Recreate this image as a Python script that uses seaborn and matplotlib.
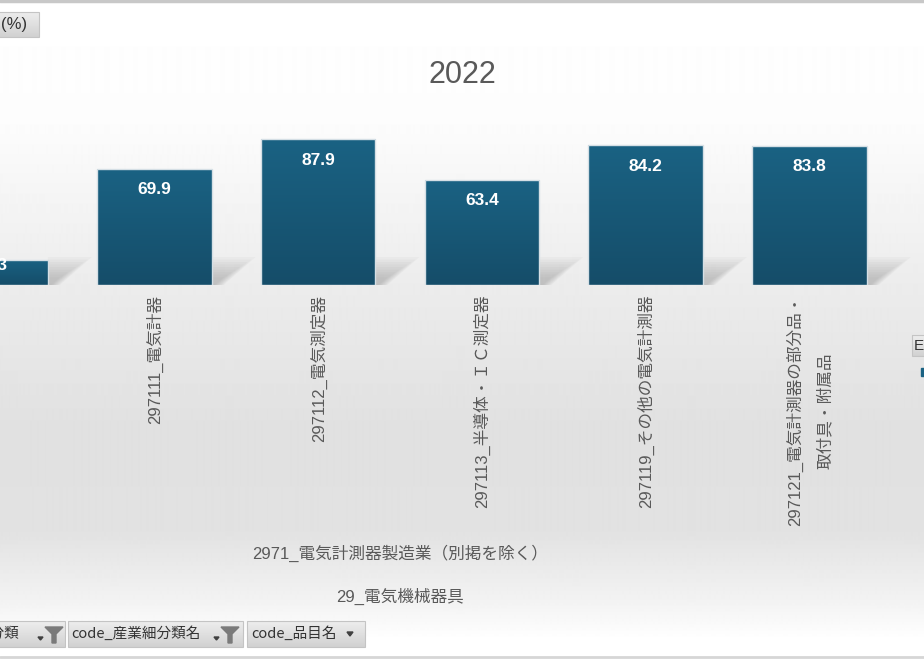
import numpy as np
import pandas as pd
import matplotlib
matplotlib.use('Agg')
import matplotlib.pyplot as plt
import matplotlib.transforms as mtransforms
from matplotlib.colors import LinearSegmentedColormap
from matplotlib.patches import Polygon, Rectangle
import seaborn as sns

# data
year = '2022'
items = ['297100_電気計測器', '297111_電気計器', '297112_電気測定器',
         '297113_半導体・ＩＣ測定器', '297119_その他の電気計測器',
         '297121_電気計測器の部分品・\n取付具・附属品']
values = [15.3, 69.9, 87.9, 63.4, 84.2, 83.8]
group_small = '2971_電気計測器製造業（別掲を除く）'
group_large = '29_電気機械器具'
filter_buttons = ['code_産業中分類', 'code_産業細分類名', 'code_品目名']
value_button = '(%)'
legend_button = 'E'

bar_top = '#1a6283'
bar_bottom = '#154d69'
text_grey = '#595959'

sns.set_theme(style='white')
plt.rcParams['font.family'] = ['Liberation Sans', 'Noto Sans CJK JP', 'DejaVu Sans']

W, H = 924, 660
fig = plt.figure(figsize=(W / 100, H / 100), dpi=100)

# background layer in pixel coordinates
bg = fig.add_axes([0, 0, 1, 1], zorder=0)
bg.set_xlim(0, W)
bg.set_ylim(H, 0)
bg.axis('off')
stop_y = [0, 120, 285, 430, 530, 600, 640, 660]
stop_v = [1.0, 0.99, 0.925, 0.88, 0.885, 0.95, 1.0, 1.0]
shade = np.interp(np.arange(H), stop_y, stop_v)
bg.imshow(np.repeat(shade[:, None], 2, axis=1), cmap='gray', vmin=0, vmax=1,
          extent=[0, W, H, 0], aspect='auto', interpolation='bilinear')
bg.plot([0, W], [1, 1], color='#c8c8c8', lw=2.5)
bg.plot([0, W], [657, 657], color='#d6d6d6', lw=2)
bg.set_xlim(0, W)
bg.set_ylim(H, 0)


def button(x0, y0, x1, y1):
    g = np.linspace(0.93, 0.82, 50)[:, None]
    bg.imshow(np.repeat(g, 2, axis=1), cmap='gray', vmin=0, vmax=1,
              extent=[x0, x1, y1, y0], aspect='auto', interpolation='bilinear')
    bg.add_patch(Rectangle((x0, y0), x1 - x0, y1 - y0, fill=False,
                           edgecolor='#c4c4c4', lw=0.8))


def funnel(cx, cy):
    pts = [(cx - 9, cy - 7), (cx + 9, cy - 7), (cx + 2, cy), (cx + 2, cy + 9),
           (cx - 2, cy + 9), (cx - 2, cy)]
    bg.add_patch(Polygon(pts, closed=True, color='#7a7a7a'))
    bg.add_patch(Polygon([(cx - 16, cy + 3), (cx - 11, cy + 3), (cx - 13.5, cy + 6)],
                         closed=True, color='#404040'))


# top-left value field button
button(-5, 12, 39, 37)
bg.text(27, 24.5, value_button, ha='right', va='center', fontsize=12, color='#333333')

# bottom filter buttons
button(-5, 621, 65, 647)
button(68, 621, 243, 647)
button(247, 621, 365, 647)
bf = ['Noto Sans CJK JP', 'DejaVu Sans']
bg.text(19, 634, filter_buttons[0], ha='right', va='center', fontsize=10.5,
        color='#333333', family=bf)
bg.text(71, 634, filter_buttons[1], ha='left', va='center', fontsize=10.5,
        color='#333333', family=bf)
bg.text(251, 634, filter_buttons[2], ha='left', va='center', fontsize=10.5,
        color='#333333', family=bf)
funnel(54, 634)
funnel(230, 634)
bg.add_patch(Polygon([(347, 632), (353, 632), (350, 636)], closed=True, color='#404040'))

# legend stub at the right edge
button(912, 335, 932, 356)
bg.text(914, 345.5, legend_button, ha='left', va='center', fontsize=11, color='#333333')
bg.add_patch(Rectangle((921, 368), 8, 8, color=bar_top))

# main plot
ax = fig.add_axes([0, 1 - 285 / H, 1, 175 / H], zorder=1)
ax.patch.set_alpha(0)
df = pd.DataFrame({'item': items, 'value': values})
sns.barplot(data=df, x='item', y='value', order=items, color=bar_top,
            saturation=1, width=0.7, errorbar=None, ax=ax, linewidth=0)

ax.set_xticks(range(len(items)))
ax.set_xticklabels(items, rotation=90, va='top', ha='center', color=text_grey,
                   fontsize=12, linespacing=2.1)
for lab in ax.get_xticklabels():
    lab.set_multialignment('center')

px_x = 163.8
px_y = 1.66
x_lo = 9.5 / px_x
ax.set_xlim(x_lo, x_lo + W / px_x)
ax.set_ylim(0, 175 / px_y)
sx, sy = 1 / px_x, 1 / px_y

cmap = LinearSegmentedColormap.from_list('bar', [bar_bottom, bar_top])
grad = np.linspace(0, 1, 100)[:, None]
bars = list(ax.patches)
for p, v in zip(bars, values):
    x0, w = p.get_x(), p.get_width()
    xr = x0 + w
    # soft floor shadow to the right
    for k in range(9):
        s = 1 - k * 0.09
        pts = [(xr, 0), (xr + 12 * s * sx, 0), (xr + 44 * s * sx, 28 * s * sy),
               (xr, 28 * s * sy)]
        ax.add_patch(Polygon(pts, closed=True, color='#808080', alpha=0.05,
                             lw=0, zorder=0.5))
    im = ax.imshow(grad, cmap=cmap, extent=[x0, xr, 0, v], origin='lower',
                   aspect='auto', interpolation='bilinear', zorder=2)
    im.set_clip_path(p)
    ax.add_patch(Rectangle((x0, 0), w, v, fill=False, edgecolor='#d5dfe5',
                           lw=1, zorder=3))
    off = min(21, 0.25 * v / sy)
    tr = mtransforms.offset_copy(ax.transData, fig=fig, y=-off, units='dots')
    ax.text(x0 + w / 2, v, f'{v:.1f}', transform=tr, ha='center', va='center',
            color='white', fontsize=12.5, fontweight='bold', zorder=5)

ax.set_xlim(x_lo, x_lo + W / px_x)
ax.set_ylim(0, 175 / px_y)
ax.set_xlabel('')
ax.set_ylabel('')
ax.set_yticks([])
ax.tick_params(axis='x', length=0, pad=7)
for sp in ax.spines.values():
    sp.set_visible(False)

# title and category group labels
fig.text(0.5, 1 - 75 / H, year, ha='center', va='center', fontsize=22, color=text_grey)
tb = mtransforms.blended_transform_factory(ax.transData, fig.transFigure)
mid = (len(items) - 1) / 2
fig.text(mid, 1 - 553 / H, group_small, transform=tb, ha='center', va='center',
         fontsize=12, color=text_grey)
fig.text(mid, 1 - 596 / H, group_large, transform=tb, ha='center', va='center',
         fontsize=12, color=text_grey)

fig.savefig('out.png', dpi=100)
